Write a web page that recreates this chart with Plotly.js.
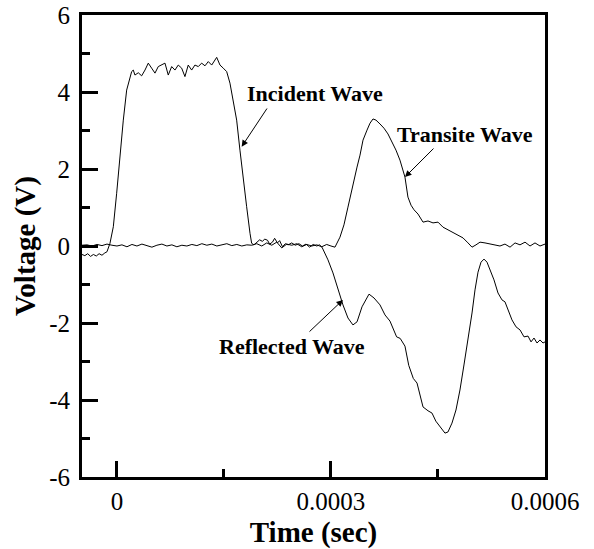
<!DOCTYPE html>
<html>
<head>
<meta charset="utf-8">
<script src="https://cdn.plot.ly/plotly-3.0.1.min.js"></script>
<style>html,body{margin:0;padding:0;background:#fff;}#chart{width:594px;height:549px;}</style>
</head>
<body>
<div id="chart"></div>
<script>
// Incident + reflected wave (same gauge channel): time in microseconds, voltage in V
const incidentTimeUs = [-49,-45,-41,-37,-33,-29,-25,-21,-17,-14,
  -9.8,-5.1,-0.4,4.2,8.9,13.6,18.2,20.6,
  22.9,25.2,29.9,34.6,39.3,43.9,48.6,53.3,57.9,62.7,67.3,71.9,76.7,81.3,85.9,90.7,95.3,99.9,104.7,109.3,114.0,118.7,123.4,128.0,132.8,139.8,144.4,149.0,153.8,
  158.4,163.0,167.8,172.4,177.1,181.8,186.5,188.8,
  192,196,200,204,207,211,214,218,221,225,228,232,236,240,245,250,255,260,265,270,275,280,284,
  287.4,295.8,302.8,309.8,316.8,323.8,330.8,336.5,343.5,353.3,360.3,368.7,375.7,382.7,392,397,403.7,409,415.4,420.6,429,436,441.6,447,452.8,459.8,464,
  469.6,475.2,480.8,486.4,492.1,497.7,501.9,506.1,510.3,514.5,518.7,522.9,528.5,534.1,539.7,543.9,549.5,553.7,559.4,565.0,570.6,576.2,580.4,584.6,588.8,593.0,597.2,600];
const incidentVolt = [-0.22,-0.25,-0.2,-0.27,-0.22,-0.26,-0.2,-0.24,-0.18,-0.15,
  0.07,0.5,1.37,2.41,3.27,4.05,4.4,4.53,
  4.57,4.44,4.5,4.42,4.57,4.75,4.62,4.49,4.66,4.7,4.75,4.44,4.66,4.57,4.7,4.62,4.4,4.7,4.57,4.7,4.66,4.75,4.68,4.79,4.7,4.9,4.7,4.62,4.53,
  4.23,3.79,3.27,2.49,1.71,1.02,0.33,0.07,
  0.03,0.1,0.16,0.12,0.18,0.15,0.05,0.1,0.2,0.08,0.14,-0.02,0.06,0.03,0.08,0.02,0.06,0.0,0.05,-0.03,0.04,0.0,0.03,
  -0.03,-0.36,-0.70,-1.14,-1.53,-1.87,-2.05,-1.97,-1.58,-1.25,-1.35,-1.53,-1.79,-1.95,-2.36,-2.40,-2.6,-3.1,-3.44,-3.56,-4.18,-4.28,-4.34,-4.55,-4.70,-4.86,-4.83,
  -4.60,-4.26,-3.74,-3.09,-2.44,-1.74,-1.14,-0.68,-0.42,-0.34,-0.42,-0.62,-0.88,-1.22,-1.40,-1.45,-1.74,-1.92,-2.10,-2.18,-2.36,-2.34,-2.49,-2.39,-2.52,-2.44,-2.52,-2.49];

// Transmitted ("Transite") wave
const transmitTimeUs = [-49,-42,-35,-28,-21,-14,-7,0,7,14,21,28,35,42,49,56,63,70,77,84,91,98,105,112,119,126,133,140,147,154,161,168,175,182,189,196,203,210,217,224,231,238,245,252,259,266,273,280,287,294,300,305.6,
  312.6,318.2,323.8,329.4,336.5,340.7,344.9,350.5,354.7,358.9,363.1,368.7,374.3,379.9,385.5,391.1,396.7,403.7,407.9,412.2,416.4,422.0,429.0,436.0,443.0,450.0,457.0,464.0,471.0,478.0,485.1,492.1,497.7,
  503.3,508.9,515.9,522.9,530.0,536.9,543.9,551.0,558.0,565.0,572.0,579.0,586.0,593.0,600];
const transmitVolt = [0.02,0.03,0.0,0.04,0.01,0.05,0.02,0.0,0.03,-0.02,0.04,0.0,0.05,0.01,-0.03,0.02,0.05,0.0,0.03,-0.02,0.02,0.0,0.04,0.01,0.06,0.02,0.05,0.0,0.03,0.06,0.01,0.04,0.0,0.03,0.02,0.06,0.0,0.08,0.02,0.1,-0.05,0.05,0.02,0.06,-0.02,0.04,0.0,0.03,-0.02,0.04,0.0,-0.03,
  0.23,0.55,1.01,1.51,2.05,2.36,2.75,3.01,3.19,3.30,3.27,3.17,3.06,2.91,2.70,2.49,2.23,1.79,1.27,1.06,0.94,0.83,0.62,0.65,0.60,0.62,0.49,0.42,0.34,0.26,0.21,0.08,-0.03,
  0.03,0.10,0.08,0.05,0.03,0.0,0.05,-0.03,0.08,0.03,0.10,0.0,0.08,0.0,0.05];

const xTickVals = [0, 0.0003, 0.0006];
const xTickText = ['0', '0.0003', '0.0006'];
const yTickVals = [-6, -4, -2, 0, 2, 4, 6];
const yTickText = ['-6', '-4', '-2', '0', '2', '4', '6'];

const labels = [
  {text: 'Incident Wave', tx: 277.6, ty: 3.95, hx: 174.8, hy: 2.58, ax: 211.7, ay: 3.61},
  {text: 'Transite Wave', tx: 487.2, ty: 2.90, hx: 403.7, hy: 1.79, ax: 445.8, ay: 2.57},
  {text: 'Reflected Wave', tx: 245.3, ty: -2.62, hx: 316.8, hy: -1.40, ax: 267.8, ay: -2.26}
];

const us = v => v * 1e-6;
const serif = 'Liberation Serif';

const traces = [
  {x: incidentTimeUs.map(us), y: incidentVolt, mode: 'lines', line: {color: '#000', width: 1}, name: 'Incident/Reflected'},
  {x: transmitTimeUs.map(us), y: transmitVolt, mode: 'lines', line: {color: '#000', width: 1}, name: 'Transmitted'}
];

const annotations = [];
labels.forEach(l => {
  annotations.push({x: us(l.tx), y: l.ty, xref: 'x', yref: 'y', text: l.text, showarrow: false,
    font: {family: serif, size: 22, color: '#000', weight: 'bold'}});
  annotations.push({x: us(l.hx), y: l.hy, xref: 'x', yref: 'y', ax: us(l.ax), ay: l.ay, axref: 'x', ayref: 'y',
    text: '', showarrow: true, arrowhead: 2, arrowsize: 1.3, arrowwidth: 1, arrowcolor: '#000'});
});

const layout = {
  width: 594, height: 549,
  margin: {l: 82, r: 49, t: 15, b: 72},
  paper_bgcolor: '#fff', plot_bgcolor: '#fff',
  showlegend: false,
  font: {family: serif, color: '#000'},
  xaxis: {
    range: [us(-49), us(600)],
    tickmode: 'array', tickvals: xTickVals, ticktext: xTickText,
    ticks: 'inside', ticklen: 16, tickwidth: 3, tickcolor: '#000',
    minor: {ticks: 'inside', ticklen: 8, tickwidth: 3, tickcolor: '#000', dtick: 0.00015, tick0: 0, showgrid: false},
    showline: true, linewidth: 3, linecolor: '#000', mirror: true,
    showgrid: false, zeroline: false,
    tickfont: {family: serif, size: 25, color: '#000'},
    ticklabelstandoff: 0,
    title: {text: 'Time (sec)', font: {family: serif, size: 29, color: '#000', weight: 'bold'}, standoff: 12}
  },
  yaxis: {
    range: [-6, 6],
    tickmode: 'array', tickvals: yTickVals, ticktext: yTickText,
    ticks: 'inside', ticklen: 16, tickwidth: 3, tickcolor: '#000',
    minor: {ticks: 'inside', ticklen: 8, tickwidth: 3, tickcolor: '#000', dtick: 1, tick0: 0, showgrid: false},
    showline: true, linewidth: 3, linecolor: '#000', mirror: true,
    showgrid: false, zeroline: false,
    tickfont: {family: serif, size: 25, color: '#000'},
    ticklabelstandoff: 4,
    title: {text: 'Voltage (V)', font: {family: serif, size: 29, color: '#000', weight: 'bold'}, standoff: 6}
  },
  annotations: annotations
};

Plotly.newPlot('chart', traces, layout, {staticPlot: true, displayModeBar: false});
</script>
</body>
</html>
